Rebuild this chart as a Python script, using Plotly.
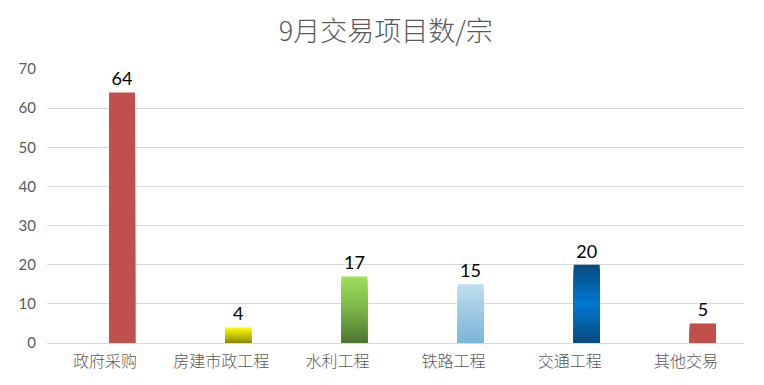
import plotly.graph_objects as go

categories = ["政府采购", "房建市政工程", "水利工程", "铁路工程", "交通工程", "其他交易"]
values = [64, 4, 17, 15, 20, 5]
y_ticks = [0, 10, 20, 30, 40, 50, 60, 70]

# colour stops per bar, listed bottom -> top
color_stops = [
    ["#C0504D", "#C0504D"],
    ["#8A8A00", "#C8C800", "#FFFF00"],
    ["#4C7430", "#7BB447", "#9EE05C"],
    ["#7AB6D8", "#9CC9E2", "#BFDFEE"],
    ["#0A4A7E", "#0078D2", "#0A4A7E"],
    ["#C0504D", "#C0504D"],
]

def hex2rgb(h):
    h = h.lstrip("#")
    return tuple(int(h[i:i + 2], 16) for i in (0, 2, 4))

def interp(stops, t):
    n = len(stops) - 1
    pos = t * n
    i = min(int(pos), n - 1)
    f = pos - i
    a, b = hex2rgb(stops[i]), hex2rgb(stops[i + 1])
    c = [round(a[j] + (b[j] - a[j]) * f) for j in range(3)]
    return "rgb(%d,%d,%d)" % tuple(c)

BAR_W = 0.224
BAR_OFF = 0.034
N = 24

fig = go.Figure()
for k in range(N):
    frac = (N - k) / N
    ys = [v * frac for v in values]
    cols = [interp(s, (N - k - 0.5) / N) for s in color_stops]
    fig.add_trace(go.Bar(
        x=categories, y=ys, width=BAR_W, offset=BAR_OFF,
        marker=dict(color=cols, line=dict(width=0)),
        text=[str(v) for v in values] if k == 0 else None,
        textposition="outside" if k == 0 else "none",
        textfont=dict(family="Lato, Noto Sans CJK SC", size=18, color="#000000"),
        cliponaxis=False,
        hoverinfo="x+text" if k == 0 else "skip",
        showlegend=False,
    ))

fig.update_layout(
    width=764, height=385,
    barmode="overlay",
    paper_bgcolor="white", plot_bgcolor="white",
    margin=dict(l=47, r=20, t=69, b=42),
    title=dict(text="9月交易项目数/宗", x=0.505, xref="container", xanchor="center",
               y=1 - 32 / 385, yref="container", yanchor="middle",
               font=dict(family="Noto Sans CJK SC", size=27, color="#595959", weight=300)),
    font=dict(family="Lato, Noto Sans CJK SC", color="#595959"),
)
fig.update_xaxes(
    showgrid=False, showline=True, linecolor="#D9D9D9", linewidth=1,
    ticks="", tickfont=dict(family="Noto Sans CJK SC", size=16, color="#595959", weight=300),
    ticklabelstandoff=4,
)
fig.update_yaxes(
    range=[0, 70], tickvals=y_ticks, showgrid=True, gridcolor="#D9D9D9", gridwidth=1,
    zeroline=False, showline=False, ticks="",
    tickfont=dict(family="Lato, Noto Sans CJK SC", size=15, color="#595959"),
    ticklabelstandoff=10,
)

fig.write_html("out.html")
